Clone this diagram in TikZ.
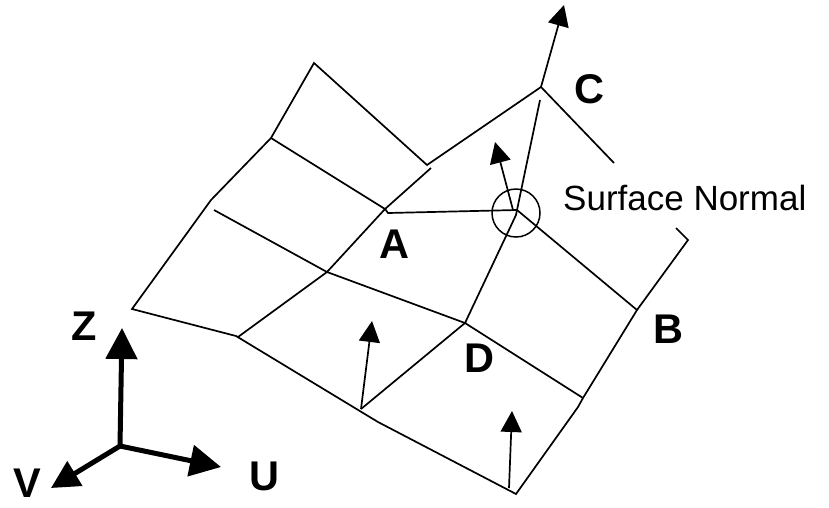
\documentclass[tikz,border=0pt]{standalone}
\usepackage{fontspec}
\setmainfont{Liberation Sans}
\usetikzlibrary{arrows.meta}
\tikzset{
  mesh/.style={line width=1.7pt,line join=miter,line cap=butt},
  normalarrow/.style={line width=1.7pt,-{Triangle[length=21pt,width=21pt]}},
  axisarrow/.style={line width=5pt,-{Triangle[length=31pt,width=31pt]}},
  vaxisarrow/.style={line width=5pt,-{Triangle[length=28pt,width=28pt]}},
  letter/.style={inner sep=0pt,anchor=base,font=\fontsize{41.5}{42}\selectfont\bfseries},
  caption/.style={inner sep=0pt,anchor=base west,font=\fontsize{35}{36}\selectfont}
}
\begin{document}
\begin{tikzpicture}[x=1pt,y=-1pt]
\useasboundingbox (0,0) rectangle (829,507);
\fill[white] (0,0) rectangle (829,507);
% mesh vertices
\coordinate (top) at (314,63);
\coordinate (kn) at (427,165);
\coordinate (c) at (541,87);
\coordinate (cgap) at (540,100);
\coordinate (cend) at (614,163);
\coordinate (ul) at (271,138);
\coordinate (l) at (211,200);
\coordinate (lgap) at (214,210);
\coordinate (ll) at (132,309);
\coordinate (lb) at (236,336);
\coordinate (lbgap) at (238,337);
\coordinate (kngap) at (431,168);
\coordinate (ax) at (385,209);
\coordinate (axr) at (388,213);
\coordinate (m) at (327,272);
\coordinate (p) at (517,210);
\coordinate (pb) at (516,215);
\coordinate (d) at (465,323);
\coordinate (b) at (637,310);
\coordinate (rend) at (676,228);
\coordinate (rcorner) at (688,240);
\coordinate (r) at (583,398);
\coordinate (rb) at (578,407);
\coordinate (bot) at (516,494);
\coordinate (bb) at (378,422);
\coordinate (s) at (361,409);
% normals
\coordinate (ntop) at (564,5);
\coordinate (nmidb) at (513,210);
\coordinate (nmid) at (495,142);
\coordinate (nl) at (372,321);
\coordinate (nrb) at (509,488);
\coordinate (nr) at (512,411);
% axes
\coordinate (o) at (120,446);
\coordinate (zt) at (122,328);
\coordinate (ut) at (221,467);
\coordinate (vt) at (51,488);
% mesh lines
\draw[mesh] (cend) -- (c) -- (kn) -- (top) -- (ul) -- (l) -- (ll) -- (lb) -- (bb) -- (bot) -- (rb) -- (r) -- (b) -- (rcorner) -- (rend);
\draw[mesh] (ul) -- (ax) -- (axr) -- (p) -- (b);
\draw[mesh] (kngap) -- (ax) -- (m) -- (lgap);
\draw[mesh] (cgap) -- (p) -- (pb) -- (d) -- (r);
\draw[mesh] (lbgap) -- (m) -- (d) -- (s);
% circle
\node[draw,circle,line width=1.5pt,minimum size=48pt,inner sep=0pt] (ring) at (516,213) {};
% normals
\draw[normalarrow] (c) -- (ntop);
\draw[normalarrow] (nmidb) -- (nmid);
\draw[normalarrow] (s) -- (nl);
\draw[normalarrow] (nrb) -- (nr);
% axes
\draw[axisarrow] (o) -- (zt);
\draw[axisarrow] (o) -- (ut);
\draw[vaxisarrow] (o) -- (vt);
% labels
\node[letter] (lc) at (589,103) {C};
\node[letter] (la) at (394,258) {A};
\node[letter] (ld) at (479,372) {D};
\node[letter] (lb2) at (668,343) {B};
\node[letter] (lz) at (84,340) {Z};
\node[letter] (lu) at (264,490) {U};
\node[letter] (lv) at (27,497) {V};
\node[caption] (sn) at (563,210) {Surface Normal};
\end{tikzpicture}
\end{document}
